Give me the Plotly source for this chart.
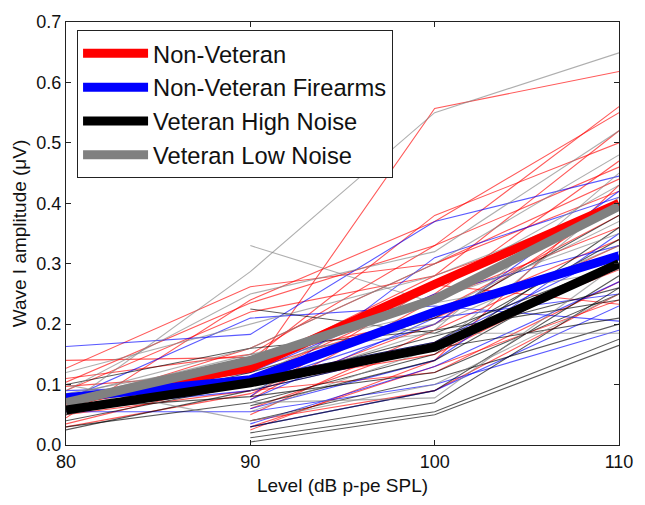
import plotly.graph_objects as go

levels = [80, 90, 100, 110]

# Individual subjects: values at 80, 90, 100, 110 dB (None = not measured)
non_veteran = [
    [0.127, 0.262, 0.30, 0.42],
    [0.14, 0.145, 0.21, 0.34],
    [0.104, 0.235, 0.33, 0.56],
    [0.097, 0.12, 0.557, 0.618],
    [0.045, 0.24, 0.37, 0.55],
    [0.035, 0.11, 0.25, 0.47],
    [0.055, 0.13, 0.28, 0.52],
    [0.03, 0.085, 0.20, 0.40],
    [0.06, 0.10, 0.15, 0.30],
    [0.11, 0.15, 0.33, 0.46],
    [0.08, 0.125, 0.22, 0.38],
    [0.05, 0.09, 0.12, 0.27],
    [None, 0.04, 0.09, 0.25],
    [None, 0.025, 0.14, 0.43],
    [None, 0.075, 0.24, 0.36],
    [None, 0.06, 0.17, 0.29],
    [0.07, 0.14, 0.38, 0.50],
    [0.09, 0.22, 0.28, 0.39],
    [None, 0.05, 0.19, 0.33],
    [0.065, 0.16, 0.30, 0.44],
    [None, 0.08, 0.265, 0.233],
    [None, 0.03, 0.13, 0.24],
]
non_veteran_firearms = [
    [0.163, 0.183, 0.37, 0.445],
    [0.055, 0.055, 0.10, 0.19],
    [None, 0.08, 0.31, 0.41],
    [None, 0.075, 0.21, 0.25],
    [None, 0.035, 0.13, 0.27],
    [None, 0.03, 0.09, 0.23],
    [0.08, 0.12, 0.25, 0.33],
    [0.09, 0.10, 0.20, 0.42],
    [0.075, 0.21, 0.23, 0.205],
    [None, 0.11, 0.17, 0.32],
    [0.06, 0.09, 0.16, 0.30],
    [None, 0.06, 0.14, 0.35],
]
veteran_high = [
    [None, 0.005, 0.05, 0.165],
    [None, 0.012, 0.055, 0.175],
    [None, 0.225, 0.185, 0.30],
    [0.025, 0.09, 0.16, 0.21],
    [0.04, 0.10, 0.18, 0.26],
    [0.06, 0.08, 0.12, 0.25],
    [None, 0.04, 0.11, 0.20],
    [0.10, 0.16, 0.19, 0.24],
    [0.03, 0.07, 0.15, 0.36],
    [None, 0.03, 0.09, 0.28],
    [0.05, 0.12, 0.21, 0.38],
    [None, 0.065, 0.14, 0.31],
    [0.07, 0.11, 0.17, 0.34],
    [None, 0.02, 0.07, 0.26],
]
veteran_low = [
    [0.065, 0.287, 0.55, 0.649],
    [None, 0.33, 0.235, 0.29],
    [0.10, 0.04, 0.10, 0.25],
    [0.09, 0.25, 0.32, 0.52],
    [0.08, 0.16, 0.30, 0.48],
    [None, 0.15, 0.185, 0.185],
    [0.05, 0.11, 0.26, 0.43],
    [0.12, 0.20, 0.28, 0.40],
    [None, 0.07, 0.078, 0.30],
    [0.075, 0.15, 0.22, 0.37],
    [None, 0.09, 0.19, 0.45],
    [0.06, 0.13, 0.24, 0.35],
    [0.085, 0.14, 0.20, 0.33],
    [None, 0.055, 0.16, 0.41],
]

# Group means
mean_non_veteran = [0.072, 0.128, 0.266, 0.40]
mean_non_veteran_firearms = [0.078, 0.108, 0.22, 0.313]
mean_veteran_high = [0.058, 0.103, 0.162, 0.30]
mean_veteran_low = [0.07, 0.14, 0.241, 0.395]

groups = [
    ("Non-Veteran", non_veteran, mean_non_veteran, "rgba(255,0,0,0.65)", "#ff0000", 1),
    ("Non-Veteran Firearms", non_veteran_firearms, mean_non_veteran_firearms, "rgba(0,0,255,0.65)", "#0000ff", 2),
    ("Veteran High Noise", veteran_high, mean_veteran_high, "rgba(0,0,0,0.65)", "#000000", 3),
    ("Veteran Low Noise", veteran_low, mean_veteran_low, "rgba(130,130,130,0.65)", "#808080", 4),
]

fig = go.Figure()

for name, subjects, mean, thin, thick, rank in groups:
    for s in subjects:
        fig.add_trace(go.Scatter(
            x=levels, y=s, mode="lines", connectgaps=False,
            line=dict(color=thin, width=1.1), showlegend=False, hoverinfo="skip",
        ))

draw_order = [0, 1, 3, 2]
for i in draw_order:
    name, subjects, mean, thin, thick, rank = groups[i]
    fig.add_trace(go.Scatter(
        x=levels, y=mean, mode="lines", name=name,
        line=dict(color=thick, width=9),
        legendrank=rank, legendgroup=name,
    ))

axis_common = dict(
    showline=True, linecolor="#222", linewidth=1, mirror="ticks",
    ticks="inside", ticklen=5, tickcolor="#222", showgrid=False, zeroline=False,
    tickfont=dict(family="Liberation Sans, Arial", size=18, color="#111"),
)

fig.update_layout(
    width=645, height=505,
    margin=dict(l=66, r=24, t=15, b=60),
    paper_bgcolor="white", plot_bgcolor="white",
    xaxis=dict(range=[80, 110], tickvals=[80, 90, 100, 110],
               title=dict(text="Level (dB p-pe SPL)", standoff=8,
                          font=dict(family="Liberation Sans, Arial", size=19, color="#111")),
               **axis_common),
    yaxis=dict(range=[0, 0.7], dtick=0.1, tickformat=".1f",
               title=dict(text="Wave I amplitude (μV)", standoff=4,
                          font=dict(family="Liberation Sans, Arial", size=19, color="#111")),
               **axis_common),
    legend=dict(
        x=0.02, y=0.98, xanchor="left", yanchor="top",
        bgcolor="white", bordercolor="#222", borderwidth=1,
        font=dict(family="Liberation Sans, Arial", size=23.7, color="#111"),
        traceorder="grouped", tracegroupgap=0, itemwidth=65,
    ),
)

fig.write_html("out.html", config={"displayModeBar": False},
               post_script="document.body.style.margin='0';")
